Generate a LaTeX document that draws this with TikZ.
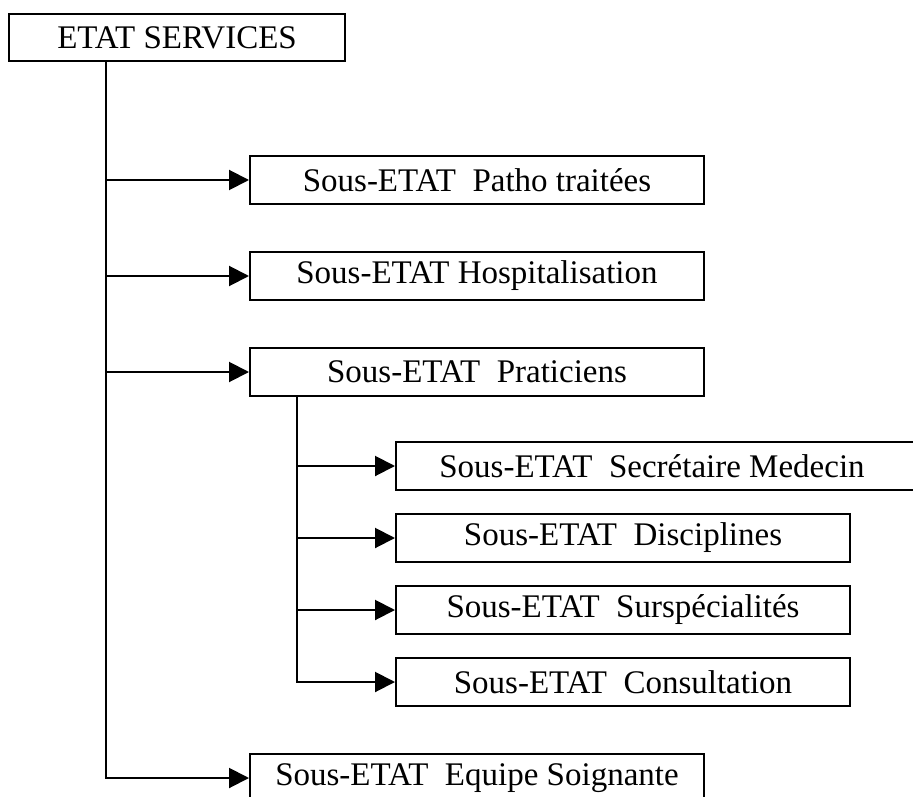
\documentclass[tikz,border=0pt]{standalone}
\usepackage{fontspec}
\setmainfont{Liberation Serif}
\usepackage{tikz}
\usetikzlibrary{arrows.meta, positioning}
\tikzstyle{process} = [rectangle, minimum width=227pt, minimum height=24pt, inner sep=0pt, text centered, draw=black, line width=1pt, font=\fontsize{16.5}{19}\selectfont]
\tikzstyle{arrow} = [line width=1pt,-{Triangle[length=10pt,width=10pt]}]

\begin{document}
\begin{tikzpicture}[x=0.5pt, y=-0.5pt]
        \useasboundingbox (0,0) rectangle (913,796);
        \clip (0,0) rectangle (913,796);
        \node (etat) [process, anchor=north west, minimum width=168pt, minimum height=23.5pt] at (8,13) {ETAT SERVICES};
        \node (patho) [process, anchor=north west] at (249,155) {Sous-ETAT\ \ Patho traitées};
        \node (hospit) [process, below=23pt of patho] {Sous-ETAT Hospitalisation};
        \node (praticiens) [process, below=23pt of hospit] {Sous-ETAT\ \ Praticiens};
        % box runs past the right edge of the page
        \node (secretaire) [process, anchor=north west, minimum width=300pt] at (395,441) {\hspace*{-44pt}Sous-ETAT\ \ Secrétaire Medecin};
        \node (disciplines) [process, below=11pt of secretaire.south west, anchor=north west] {Sous-ETAT\ \ Disciplines};
        \node (surspe) [process, below=11pt of disciplines] {Sous-ETAT\ \ Surspécialités};
        \node (consult) [process, below=11pt of surspe] {Sous-ETAT\ \ Consultation};
        \node (equipe) [process, anchor=north west] at (249,753) {Sous-ETAT\ \ Equipe Soignante};
        \coordinate [xshift=49pt] (trunk) at (etat.south west);
        \coordinate [xshift=24pt] (subtrunk) at (praticiens.south west);

        \draw [arrow] (trunk) |- (equipe.west);
        \draw [arrow] (trunk |- patho.west) -- (patho.west);
        \draw [arrow] (trunk |- hospit.west) -- (hospit.west);
        \draw [arrow] (trunk |- praticiens.west) -- (praticiens.west);
        \draw [arrow] (subtrunk) |- (consult.west);
        \draw [arrow] (subtrunk |- secretaire.west) -- (secretaire.west);
        \draw [arrow] (subtrunk |- disciplines.west) -- (disciplines.west);
        \draw [arrow] (subtrunk |- surspe.west) -- (surspe.west);
    \end{tikzpicture}
\end{document}
